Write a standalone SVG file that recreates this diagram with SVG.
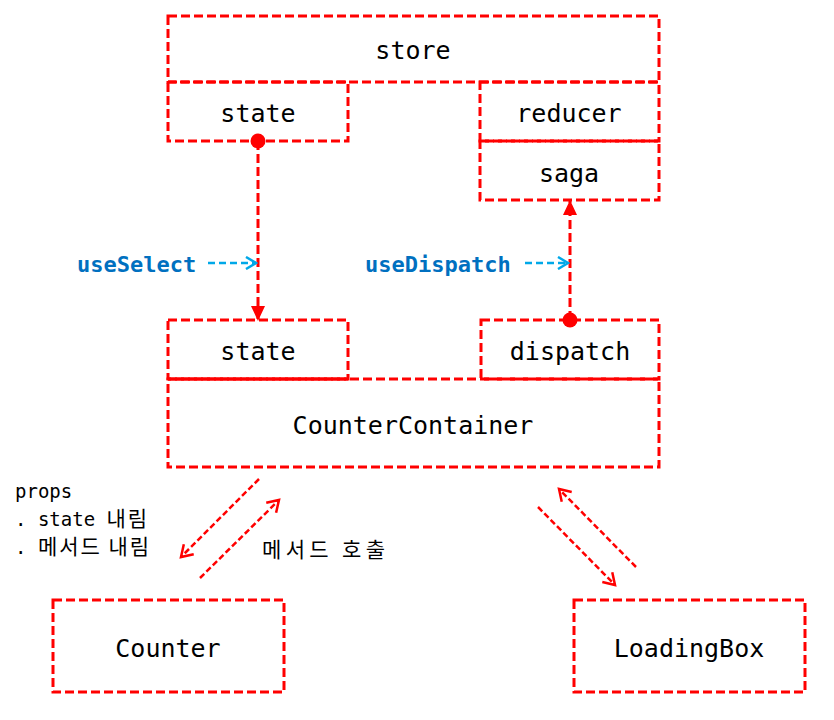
<svg xmlns="http://www.w3.org/2000/svg" width="834" height="720" viewBox="0 0 834 720">
<style>
.box{fill:none;stroke:#ff0000;stroke-width:3;stroke-dasharray:9,4}
.t{font-family:"DejaVu Sans Mono","Liberation Mono","Noto Sans CJK KR",monospace;font-size:25px;fill:#000;text-anchor:middle}
.lbl{font-family:"DejaVu Sans Mono","Liberation Mono",monospace;font-size:22px;font-weight:bold;fill:#0070c0}
.note{font-family:"DejaVu Sans Mono","Noto Sans CJK KR",monospace;font-size:19px;fill:#000}
.ko{font-family:"Noto Sans CJK KR",sans-serif;font-size:21px;letter-spacing:2px}
.link{fill:none;stroke:#ff0000;stroke-width:3;stroke-dasharray:9,4}
.diag{fill:none;stroke:#ff0000;stroke-width:2.5;stroke-dasharray:6,3}
.blue{fill:none;stroke:#00a8e8;stroke-width:2.5;stroke-dasharray:7,4}
</style>
<defs>
<marker id="tri" markerWidth="16" markerHeight="16" refX="14" refY="8" orient="auto" markerUnits="userSpaceOnUse">
<path d="M0,1 L15,8 L0,15 Z" fill="#ff0000"/>
</marker>
<marker id="vred" markerWidth="16" markerHeight="16" refX="13" refY="8" orient="auto" markerUnits="userSpaceOnUse">
<path d="M2,1 L13,8 L2,15" fill="none" stroke="#ff0000" stroke-width="2.5"/>
</marker>
<marker id="vblue" markerWidth="14" markerHeight="14" refX="12" refY="7" orient="auto" markerUnits="userSpaceOnUse">
<path d="M2,1 L12,7 L2,13" fill="none" stroke="#00a8e8" stroke-width="2.5"/>
</marker>
</defs>

<g id="store">
<rect class="box" x="168" y="16" width="491" height="66"/>
<text class="t" x="413" y="59">store</text>
</g>
<g id="store-state">
<rect class="box" x="168" y="82" width="180" height="59"/>
<text class="t" x="258" y="122">state</text>
</g>
<g id="reducer">
<rect class="box" x="480" y="82" width="179" height="59"/>
<text class="t" x="569" y="122">reducer</text>
</g>
<g id="saga">
<rect class="box" x="480" y="141" width="179" height="59"/>
<text class="t" x="569" y="182">saga</text>
</g>

<g id="container-state">
<rect class="box" x="168" y="320" width="180" height="59"/>
<text class="t" x="258" y="360">state</text>
</g>
<g id="container-dispatch">
<rect class="box" x="481" y="320" width="178" height="59"/>
<text class="t" x="570" y="360">dispatch</text>
</g>
<g id="CounterContainer">
<rect class="box" x="168" y="379" width="491" height="88"/>
<line x1="168" y1="379" x2="348" y2="379" stroke="#ff0000" stroke-width="3"/>
<text class="t" x="413" y="434">CounterContainer</text>
</g>

<g id="Counter">
<rect class="box" x="53" y="600" width="231" height="92"/>
<text class="t" x="168" y="657">Counter</text>
</g>
<g id="LoadingBox">
<rect class="box" x="574" y="600" width="231" height="92"/>
<text class="t" x="689" y="657">LoadingBox</text>
</g>

<g id="connectors">
<line class="link" x1="258" y1="141" x2="258" y2="320" marker-end="url(#tri)"/>
<circle cx="258" cy="141" r="7.5" fill="#ff0000"/>
<line class="link" x1="570" y1="320" x2="570" y2="201" marker-end="url(#tri)"/>
<circle cx="570" cy="320" r="7.5" fill="#ff0000"/>
<line class="blue" x1="208" y1="263" x2="256" y2="263" marker-end="url(#vblue)"/>
<line class="blue" x1="525" y1="263" x2="568" y2="263" marker-end="url(#vblue)"/>
<line class="diag" x1="259" y1="479" x2="181" y2="557" marker-end="url(#vred)"/>
<line class="diag" x1="200" y1="578" x2="279" y2="500" marker-end="url(#vred)"/>
<line class="diag" x1="538" y1="507" x2="615" y2="585" marker-end="url(#vred)"/>
<line class="diag" x1="636" y1="567" x2="559" y2="489" marker-end="url(#vred)"/>
</g>

<g id="labels">
<text class="lbl" x="77" y="272">useSelect</text>
<text class="lbl" x="365" y="272">useDispatch</text>
<text class="note" x="15" y="498">props</text>
<text class="note" x="15" y="526">. state <tspan class="ko">내림</tspan></text>
<text class="note" x="15" y="554">. <tspan class="ko">메서드 내림</tspan></text>
<text class="note ko" x="262" y="557" textLength="125" lengthAdjust="spacing">메서드 호출</text>
</g>
</svg>
